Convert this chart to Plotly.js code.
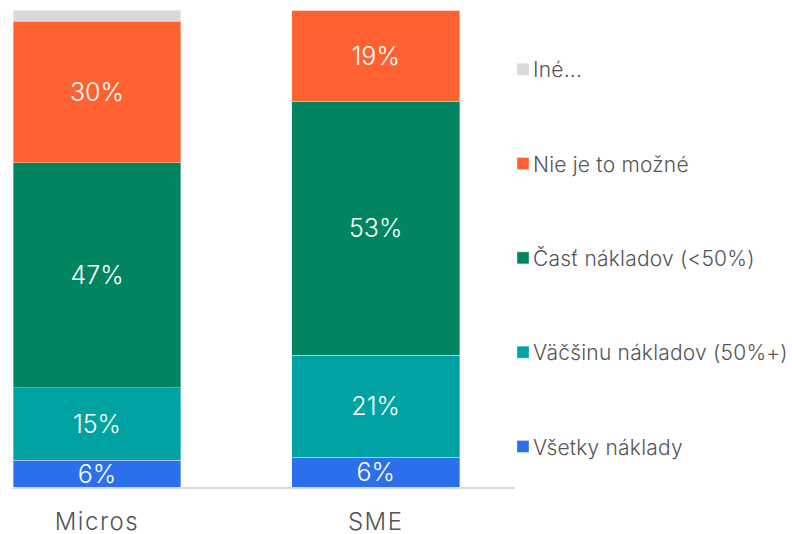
<!DOCTYPE html>
<html>
<head>
<meta charset="utf-8">
<script src="https://cdn.plot.ly/plotly-3.0.1.min.js"></script>
<style>
html,body{margin:0;padding:0;background:#fff;}
#chart{width:792px;height:534px;}
#chart .xtick text{letter-spacing:1.5px;}
#chart .legendtext{letter-spacing:0.2px;}
#chart .legend .legendpoints path{transform:translate(30px,0px);}
</style>
</head>
<body>
<div id="chart"></div>
<script>
const categories = ["Micros", "SME"];
const seriesNames = ["Všetky náklady", "Väčšinu nákladov (50%+)", "Časť nákladov (<50%)", "Nie je to možné", "Iné..."];
const vsetky = [5.6, 6.2];
const vacsinu = [15.2, 21.4];
const cast = [47.2, 53.3];
const nieJe = [29.6, 19.0];
const ine = [2.4, 0.1];
const showLabels = [true, true, true, true, false];
const colors = ["#2b6fec", "#00a3a1", "#008560", "#ff6230", "#d9d9d9"];

const allValues = [vsetky, vacsinu, cast, nieJe, ine];
const traces = allValues.map((vals, i) => ({
  type: "bar",
  name: seriesNames[i],
  x: categories,
  y: vals,
  legendgroup: "g" + i,
  legendrank: 10 - i,
  marker: {color: colors[i], line: {color: "rgba(255,255,255,0.6)", width: 0.6}},
  text: showLabels[i] ? vals.map(v => Math.round(v) + "%") : vals.map(() => ""),
  textposition: "inside",
  insidetextanchor: "middle",
  textangle: 0,
  constraintext: "none",
  textfont: {color: "#ffffff", size: 25, family: "Inter", weight: 300},
  hoverinfo: "none"
}));

const layout = {
  width: 792, height: 534,
  margin: {l: 12, r: 277, t: 10, b: 47, autoexpand: false},
  barmode: "stack",
  bargap: 0.398,
  paper_bgcolor: "#fff",
  plot_bgcolor: "#fff",
  font: {family: "Inter", color: "#555555"},
  xaxis: {
    range: [-0.305, 1.5],
    showline: true, linecolor: "#d9d9d9", linewidth: 1.5,
    showgrid: false, zeroline: false, ticks: "",
    tickfont: {size: 24, color: "#555555", family: "Inter", weight: 300},
    ticklabelstandoff: 13
  },
  yaxis: {range: [0, 100], visible: false, fixedrange: true},
  legend: {
    x: 0.9563, xanchor: "left", y: 0.918, yanchor: "top",
    traceorder: "grouped",
    tracegroupgap: 64,
    font: {size: 21, color: "#555555", family: "Inter", weight: 300},
    itemwidth: 30,
    bgcolor: "rgba(0,0,0,0)"
  },
  showlegend: true
};

Plotly.newPlot("chart", traces, layout, {displayModeBar: false, staticPlot: true});
</script>
</body>
</html>
